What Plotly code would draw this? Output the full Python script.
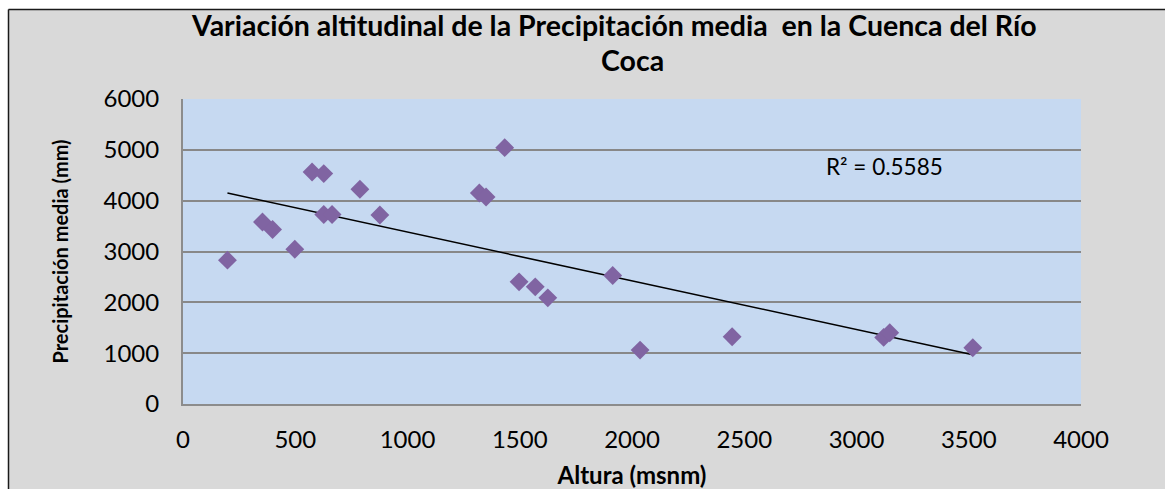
import numpy as np
import plotly.graph_objects as go

# Altitude of each station (m a.s.l.) and its mean annual precipitation (mm)
altura = [198, 354, 399, 498, 575, 627, 627, 664, 788, 877, 1320,
          1350, 1433, 1497, 1569, 1625, 1914, 2036, 2446, 3121, 3148, 3518]
precipitacion = [2829, 3581, 3432, 3045, 4564, 4532, 3727, 3727, 4224, 3719, 4151,
                 4073, 5043, 2403, 2305, 2088, 2528, 1061, 1323, 1310, 1401, 1106]

titulo = ["Variación altitudinal de la Precipitación media  en la Cuenca del Río", "Coca"]
r2_label = "R² = 0.5585"
x_ticks = [0, 500, 1000, 1500, 2000, 2500, 3000, 3500, 4000]
y_ticks = [0, 1000, 2000, 3000, 4000, 5000, 6000]

# Linear trend line over the data range
slope, intercept = np.polyfit(altura, precipitacion, 1)
x_fit = np.array([min(altura), max(altura)])
y_fit = slope * x_fit + intercept

W, H = 1165, 489
L, R, T, B = 183, 84, 99, 85
pw, ph = W - L - R, H - T - B


def px_x(px):
    return (px - L) / pw


def px_y(py):
    return (H - B - py) / ph


FONT = "Lato"

fig = go.Figure()
fig.add_trace(go.Scatter(
    x=x_fit, y=y_fit, mode="lines",
    line=dict(color="black", width=1.5),
    hoverinfo="skip", showlegend=False,
))
fig.add_trace(go.Scatter(
    x=altura, y=precipitacion, mode="markers",
    marker=dict(symbol="diamond", size=14.5, color="#8064A2", line=dict(width=0)),
    showlegend=False,
))

fig.add_annotation(
    x=3124, y=4676, xref="x", yref="y", text=r2_label, showarrow=False,
    font=dict(family=FONT, size=22.5, color="black"),
)

# Two-line chart title
for text, cy, cx in [(titulo[0], 25, 614), (titulo[1], 60, 632)]:
    fig.add_annotation(
        x=px_x(cx), y=px_y(cy), xref="paper", yref="paper",
        text=f"<b>{text}</b>", showarrow=False,
        xanchor="center", yanchor="middle",
        font=dict(family=FONT, size=28.5, color="black"),
    )

# Outer frame: white strip on top and left, dark border line
shapes = [
    dict(type="rect", xref="paper", yref="paper",
         x0=px_x(0), x1=px_x(W), y0=px_y(9), y1=px_y(0),
         fillcolor="white", line=dict(width=0), layer="below"),
    dict(type="rect", xref="paper", yref="paper",
         x0=px_x(0), x1=px_x(8), y0=px_y(H), y1=px_y(0),
         fillcolor="white", line=dict(width=0), layer="below"),
    dict(type="line", xref="paper", yref="paper",
         x0=px_x(8.5), x1=px_x(W), y0=px_y(9.5), y1=px_y(9.5),
         line=dict(color="#1a1a1a", width=1.5), layer="below"),
    dict(type="line", xref="paper", yref="paper",
         x0=px_x(8.5), x1=px_x(8.5), y0=px_y(H), y1=px_y(9.5),
         line=dict(color="#1a1a1a", width=1.5), layer="below"),
]

fig.update_layout(
    width=W, height=H,
    margin=dict(l=L, r=R, t=T, b=B, autoexpand=False),
    paper_bgcolor="#D9D9D9",
    plot_bgcolor="#C6D9F1",
    shapes=shapes,
    xaxis=dict(
        range=[0, 4000], tickvals=x_ticks, ticks="",
        ticklabelstandoff=13,
        tickfont=dict(family=FONT, size=24, color="black"),
        showgrid=False, zeroline=False,
        showline=True, linecolor="#8C8C8C", linewidth=2,
        title=dict(text="<b>Altura (msnm)</b>", standoff=15,
                   font=dict(family=FONT, size=24, color="black")),
    ),
    yaxis=dict(
        range=[0, 6000], tickvals=y_ticks, ticks="",
        ticklabelstandoff=17,
        tickfont=dict(family=FONT, size=24, color="black"),
        showgrid=True, gridcolor="#888888", gridwidth=1.5,
        zeroline=False,
        showline=True, linecolor="#8C8C8C", linewidth=2,
        title=dict(text="<b>Precipitación media (mm)</b>", standoff=30,
                   font=dict(family=FONT, size=20, color="black")),
    ),
)

fig.write_html("out.html")
